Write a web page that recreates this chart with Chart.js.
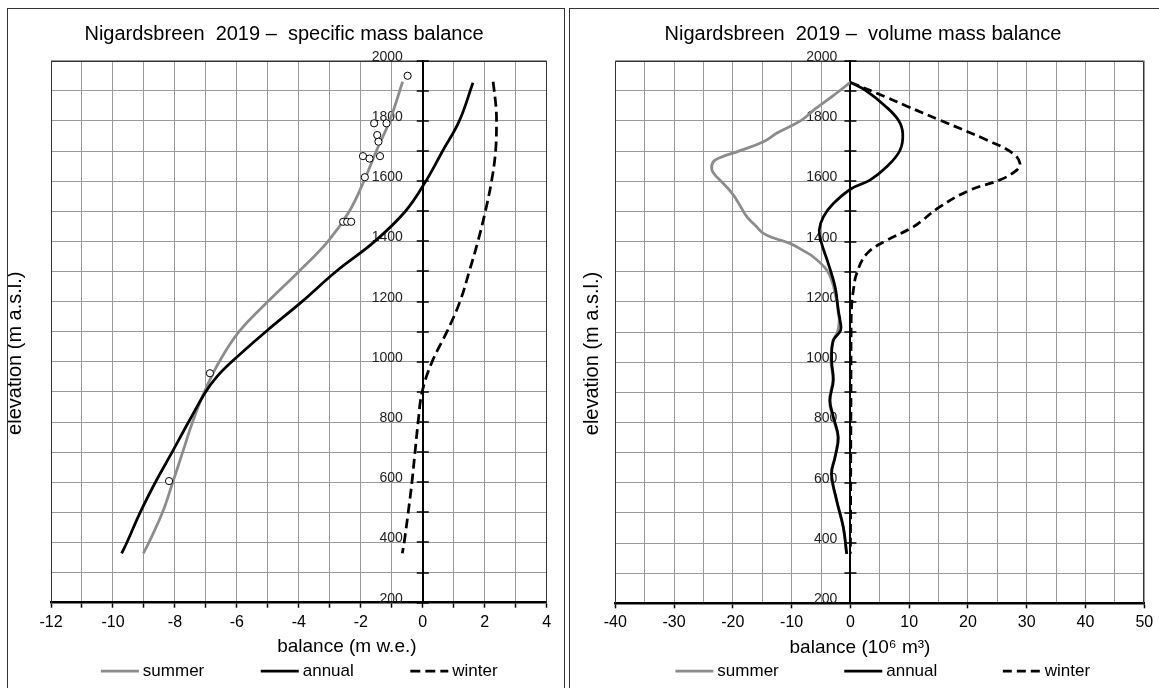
<!DOCTYPE html>
<html>
<head>
<meta charset="utf-8">
<title>Nigardsbreen 2019</title>
<script src="https://cdn.jsdelivr.net/npm/chart.js@4"></script>
<style>
  html, body { margin: 0; padding: 0; background: #fff; overflow: hidden; width: 1159px; height: 688px; }
  .panel { position: absolute; top: 8px; height: 700px; border: 1px solid #333; background: #fff; }
  #leftPanel { left: 7px; width: 556px; }
  #rightPanel { left: 569px; width: 600px; }
  canvas { display: block; }
</style>
</head>
<body>
<div class="panel" id="leftPanel"><canvas id="specChart" width="556" height="679"></canvas></div>
<div class="panel" id="rightPanel"><canvas id="volChart" width="589" height="679"></canvas></div>

<script>
// specific mass balance (m w.e.) against elevation (m a.s.l.)
const specSummerElev = [1930, 1800, 1700, 1600, 1500, 1400, 1300, 1200, 1100, 1000, 900, 800, 700, 600, 500, 400, 364];
const specSummer     = [-0.65, -1.07, -1.5, -1.9, -2.37, -3.06, -4.0, -5.0, -5.93, -6.57, -7.05, -7.43, -7.75, -8.07, -8.4, -8.84, -9.02];

const specAnnualElev = [1927, 1800, 1700, 1600, 1500, 1400, 1300, 1200, 1100, 1000, 950, 900, 800, 700, 600, 500, 400, 364];
const specAnnual     = [1.62, 1.18, 0.64, 0.1, -0.56, -1.55, -2.8, -3.9, -5.07, -6.17, -6.65, -7.01, -7.56, -8.09, -8.63, -9.12, -9.55, -9.72];

const specWinterElev = [1930, 1850, 1800, 1700, 1600, 1500, 1400, 1300, 1200, 1100, 1000, 900, 800, 700, 600, 500, 400, 364];
const specWinter     = [2.27, 2.36, 2.38, 2.35, 2.22, 2.02, 1.78, 1.5, 1.2, 0.78, 0.3, -0.02, -0.15, -0.25, -0.35, -0.47, -0.6, -0.66];

// measured points (summer)
const stakeElev    = [1950, 1792, 1792, 1753, 1731, 1683, 1675, 1683, 1613, 1465, 1465, 1465, 962, 604];
const stakeBalance = [-0.49, -1.57, -1.17, -1.47, -1.43, -1.93, -1.72, -1.38, -1.87, -2.57, -2.44, -2.31, -6.87, -8.19];

// volume mass balance (10^6 m3) against elevation
const volSummerElev = [1928, 1880, 1840, 1803, 1760, 1731, 1700, 1680, 1665, 1640, 1620, 1604, 1580, 1554, 1520, 1482, 1450, 1427, 1410, 1394, 1370, 1349, 1305, 1260, 1227, 1190, 1161, 1139, 1100, 1070, 1006, 940, 873, 818, 751, 685, 630, 541, 452, 364];
const volSummer     = [0, -3.2, -6, -8.3, -12.5, -14.8, -19, -22, -23.3, -23.6, -23, -22.2, -21, -19.9, -18.8, -17.6, -16, -14.8, -12.8, -10.3, -8, -6.3, -4.0, -3.0, -2.6, -2.2, -2.06, -1.9, -2.2, -3.0, -3.3, -3.0, -3.57, -3.0, -2.15, -2.65, -3.25, -2.37, -1.23, -0.65];

const volAnnualElev = [1928, 1900, 1850, 1803, 1759, 1703, 1648, 1604, 1576, 1526, 1482, 1438, 1394, 1327, 1249, 1172, 1139, 1106, 1072, 1006, 940, 873, 818, 751, 685, 630, 541, 452, 364];
const volAnnual     = [0, 2.7, 5.9, 8.15, 8.9, 8.44, 6.17, 3.33, 0.2, -2.9, -4.6, -5.3, -4.9, -3.76, -2.6, -2.06, -1.77, -1.65, -2.9, -3.2, -2.9, -3.47, -2.9, -2.06, -2.6, -3.2, -2.33, -1.2, -0.63];

const volWinterElev = [1928, 1880, 1850, 1803, 1737, 1692, 1659, 1637, 1604, 1571, 1515, 1449, 1404, 1360, 1294, 1238, 1183, 1100, 1000, 900, 800, 700, 600, 500, 364];
const volWinter     = [0, 6, 9.5, 15.2, 23.2, 27.7, 28.85, 28.3, 25.4, 20.35, 15.2, 10.7, 6.2, 2.8, 1.07, 0.5, 0.2, 0.12, 0.1, 0.1, 0.08, 0.06, 0.05, 0.03, 0];

const seriesNames = ['summer', 'annual', 'winter'];
const elevRange = [200, 2000];
const specRange = [-12, 4];
const volRange = [-40, 50];

const GRID = '#9a9a9a';
const SUMMER = '#8c8c8c';
const FONT = "'Liberation Sans', Arial, sans-serif";
Chart.defaults.font.family = FONT;

function pairs(xs, ys) {
  return xs.map((x, i) => ({x: x, y: ys[i]}));
}

// legend glyph: the box is `box` wide, the 38px line sits at its right end, 4px before the text
function swatch(color, dash, box) {
  const c = document.createElement('canvas');
  c.width = box + 11;
  c.height = 6;
  const g = c.getContext('2d');
  g.strokeStyle = color;
  g.lineWidth = 2.75;
  g.setLineDash(dash);
  g.beginPath();
  g.moveTo(box - 28, 3);
  g.lineTo(box + 10, 3);
  g.stroke();
  return c;
}

function lineSet(name, xs, ys, color, dash, order, box) {
  return {
    label: name, data: pairs(xs, ys), borderColor: color, backgroundColor: color,
    borderWidth: 2.75, borderDash: dash, pointRadius: 0, pointStyle: swatch(color, dash, box),
    tension: 0.4, fill: false, order: order, yAxisID: 'y', xAxisID: 'x'
  };
}

// frame, crossing ticks + labels on the centre axis, axis titles
const decor = {
  id: 'decor',
  beforeDatasetsDraw(chart, args, opts) {
    const {ctx, chartArea: a, scales} = chart;
    ctx.save();
    ctx.strokeStyle = '#333';
    ctx.lineWidth = 1;
    ctx.beginPath();
    ctx.moveTo(Math.round(a.left) + 0.5, a.bottom);
    ctx.lineTo(Math.round(a.left) + 0.5, Math.round(a.top) + 0.5);
    ctx.lineTo(Math.round(a.right) - 0.5, Math.round(a.top) + 0.5);
    ctx.lineTo(Math.round(a.right) - 0.5, a.bottom);
    ctx.stroke();

    const x0 = scales.x.getPixelForValue(0);
    ctx.strokeStyle = '#000';
    ctx.lineWidth = 1.5;
    ctx.fillStyle = '#222';
    ctx.font = '14px ' + FONT;
    ctx.textAlign = 'right';
    ctx.textBaseline = 'middle';
    scales.y.ticks.forEach(t => {
      const py = Math.round(scales.y.getPixelForValue(t.value));
      ctx.beginPath();
      ctx.moveTo(x0 - 6, py);
      ctx.lineTo(x0 + 6, py);
      ctx.stroke();
      if (t.value % 200 === 0) {
        ctx.fillText(String(t.value), x0 - opts.yGap, py - 4);
      }
    });
    ctx.restore();
  },
  afterDraw(chart, args, opts) {
    const {ctx, chartArea: a, scales} = chart;
    ctx.save();
    ctx.fillStyle = '#000';
    ctx.textAlign = 'center';
    ctx.textBaseline = 'middle';
    ctx.font = '19px ' + FONT;
    ctx.fillText(opts.xTitle, scales.x.getPixelForValue(opts.xTitleAt), a.bottom + 44);
    ctx.font = '20px ' + FONT;
    ctx.translate(a.left - opts.yTitleGap, (a.top + a.bottom) / 2 + 21.5);
    ctx.rotate(-Math.PI / 2);
    ctx.fillText('elevation (m a.s.l.)', 0, 0);
    ctx.restore();
  }
};

function makeChart(id, s) {
  return new Chart(document.getElementById(id), {
    type: 'line',
    data: {datasets: s.datasets},
    options: {
      responsive: false,
      animation: false,
      devicePixelRatio: 1,
      layout: {padding: {left: s.padL, right: s.padR, top: 0, bottom: -1.5}},
      plugins: {
        title: {
          display: true, text: s.title, color: '#000',
          font: {size: 20, weight: 'normal'}, padding: {top: 13, bottom: 14.7}
        },
        legend: {
          position: 'bottom',
          labels: {
            usePointStyle: true, pointStyleWidth: s.box,
            padding: 26, color: '#000', font: {size: 17},
            filter: it => it.text !== '',
            sort: (a, b) => a.datasetIndex - b.datasetIndex
          }
        },
        tooltip: {enabled: false},
        decor: {xTitle: s.xTitle, xTitleAt: s.xTitleAt, yGap: s.yGap, yTitleGap: s.yTitleGap}
      },
      scales: {
        x: {
          type: 'linear', position: 'bottom', min: s.xRange[0], max: s.xRange[1],
          ticks: {
            stepSize: s.xStep, autoSkip: false, maxRotation: 0, padding: 5,
            color: '#000', font: {size: 16},
            callback: v => (v % s.xLabelEvery === 0 ? String(v) : '')
          },
          grid: {
            color: GRID, lineWidth: 1, tickLength: 5, tickWidth: 1.5,
            tickColor: c => (c.tick && c.tick.value % s.xMarkEvery === 0 ? '#000' : 'rgba(0,0,0,0)')
          },
          border: {display: true, color: '#000', width: 2.5},
          afterFit: sc => { sc.height = s.xHeight; }
        },
        y: {
          type: 'linear', position: {x: 0}, min: elevRange[0], max: elevRange[1],
          ticks: {stepSize: 100, autoSkip: false, display: false},
          grid: {color: GRID, lineWidth: 1, drawTicks: false},
          border: {display: true, color: '#000', width: 2}
        },
        yt: {
          type: 'linear', position: 'left', min: elevRange[0], max: elevRange[1],
          ticks: {display: false},
          grid: {display: false, drawTicks: false},
          border: {display: false},
          afterFit: sc => { sc.width = s.ytWidth; }
        }
      }
    },
    plugins: [decor]
  });
}

const specBox = 64;
makeChart('specChart', {
  title: 'Nigardsbreen  2019 \u2013  specific mass balance',
  xTitle: 'balance (m w.e.)', xTitleAt: -2.45,
  xRange: specRange, xStep: 1, xLabelEvery: 2, xMarkEvery: 1,
  padL: 13.3, padR: 17.3, ytWidth: 29.7, yGap: 20, yTitleGap: 36,
  box: specBox, xHeight: 33.8,
  datasets: [
    lineSet(seriesNames[0], specSummer, specSummerElev, SUMMER, [], 2, specBox),
    lineSet(seriesNames[1], specAnnual, specAnnualElev, '#000', [], 1, specBox),
    lineSet(seriesNames[2], specWinter, specWinterElev, '#000', [10, 5], 3, specBox),
    {
      type: 'scatter', label: '', data: pairs(stakeBalance, stakeElev),
      pointRadius: 3.6, pointBackgroundColor: '#fff', pointBorderColor: '#000',
      pointBorderWidth: 1, showLine: false, order: 0, yAxisID: 'y', xAxisID: 'x'
    }
  ]
});

const volBox = 73;
makeChart('volChart', {
  title: 'Nigardsbreen  2019 \u2013  volume mass balance',
  xTitle: 'balance (10\u2076 m\u00b3)', xTitleAt: 1.63,
  xRange: volRange, xStep: 5, xLabelEvery: 10, xMarkEvery: 10,
  padL: 11.7, padR: 14.7, ytWidth: 33.6, yGap: 13, yTitleGap: 23.3,
  box: volBox, xHeight: 33.2,
  datasets: [
    lineSet(seriesNames[0], volSummer, volSummerElev, SUMMER, [], 3, volBox),
    lineSet(seriesNames[1], volAnnual, volAnnualElev, '#000', [], 1, volBox),
    lineSet(seriesNames[2], volWinter, volWinterElev, '#000', [9, 5], 2, volBox)
  ]
});
</script>
</body>
</html>
